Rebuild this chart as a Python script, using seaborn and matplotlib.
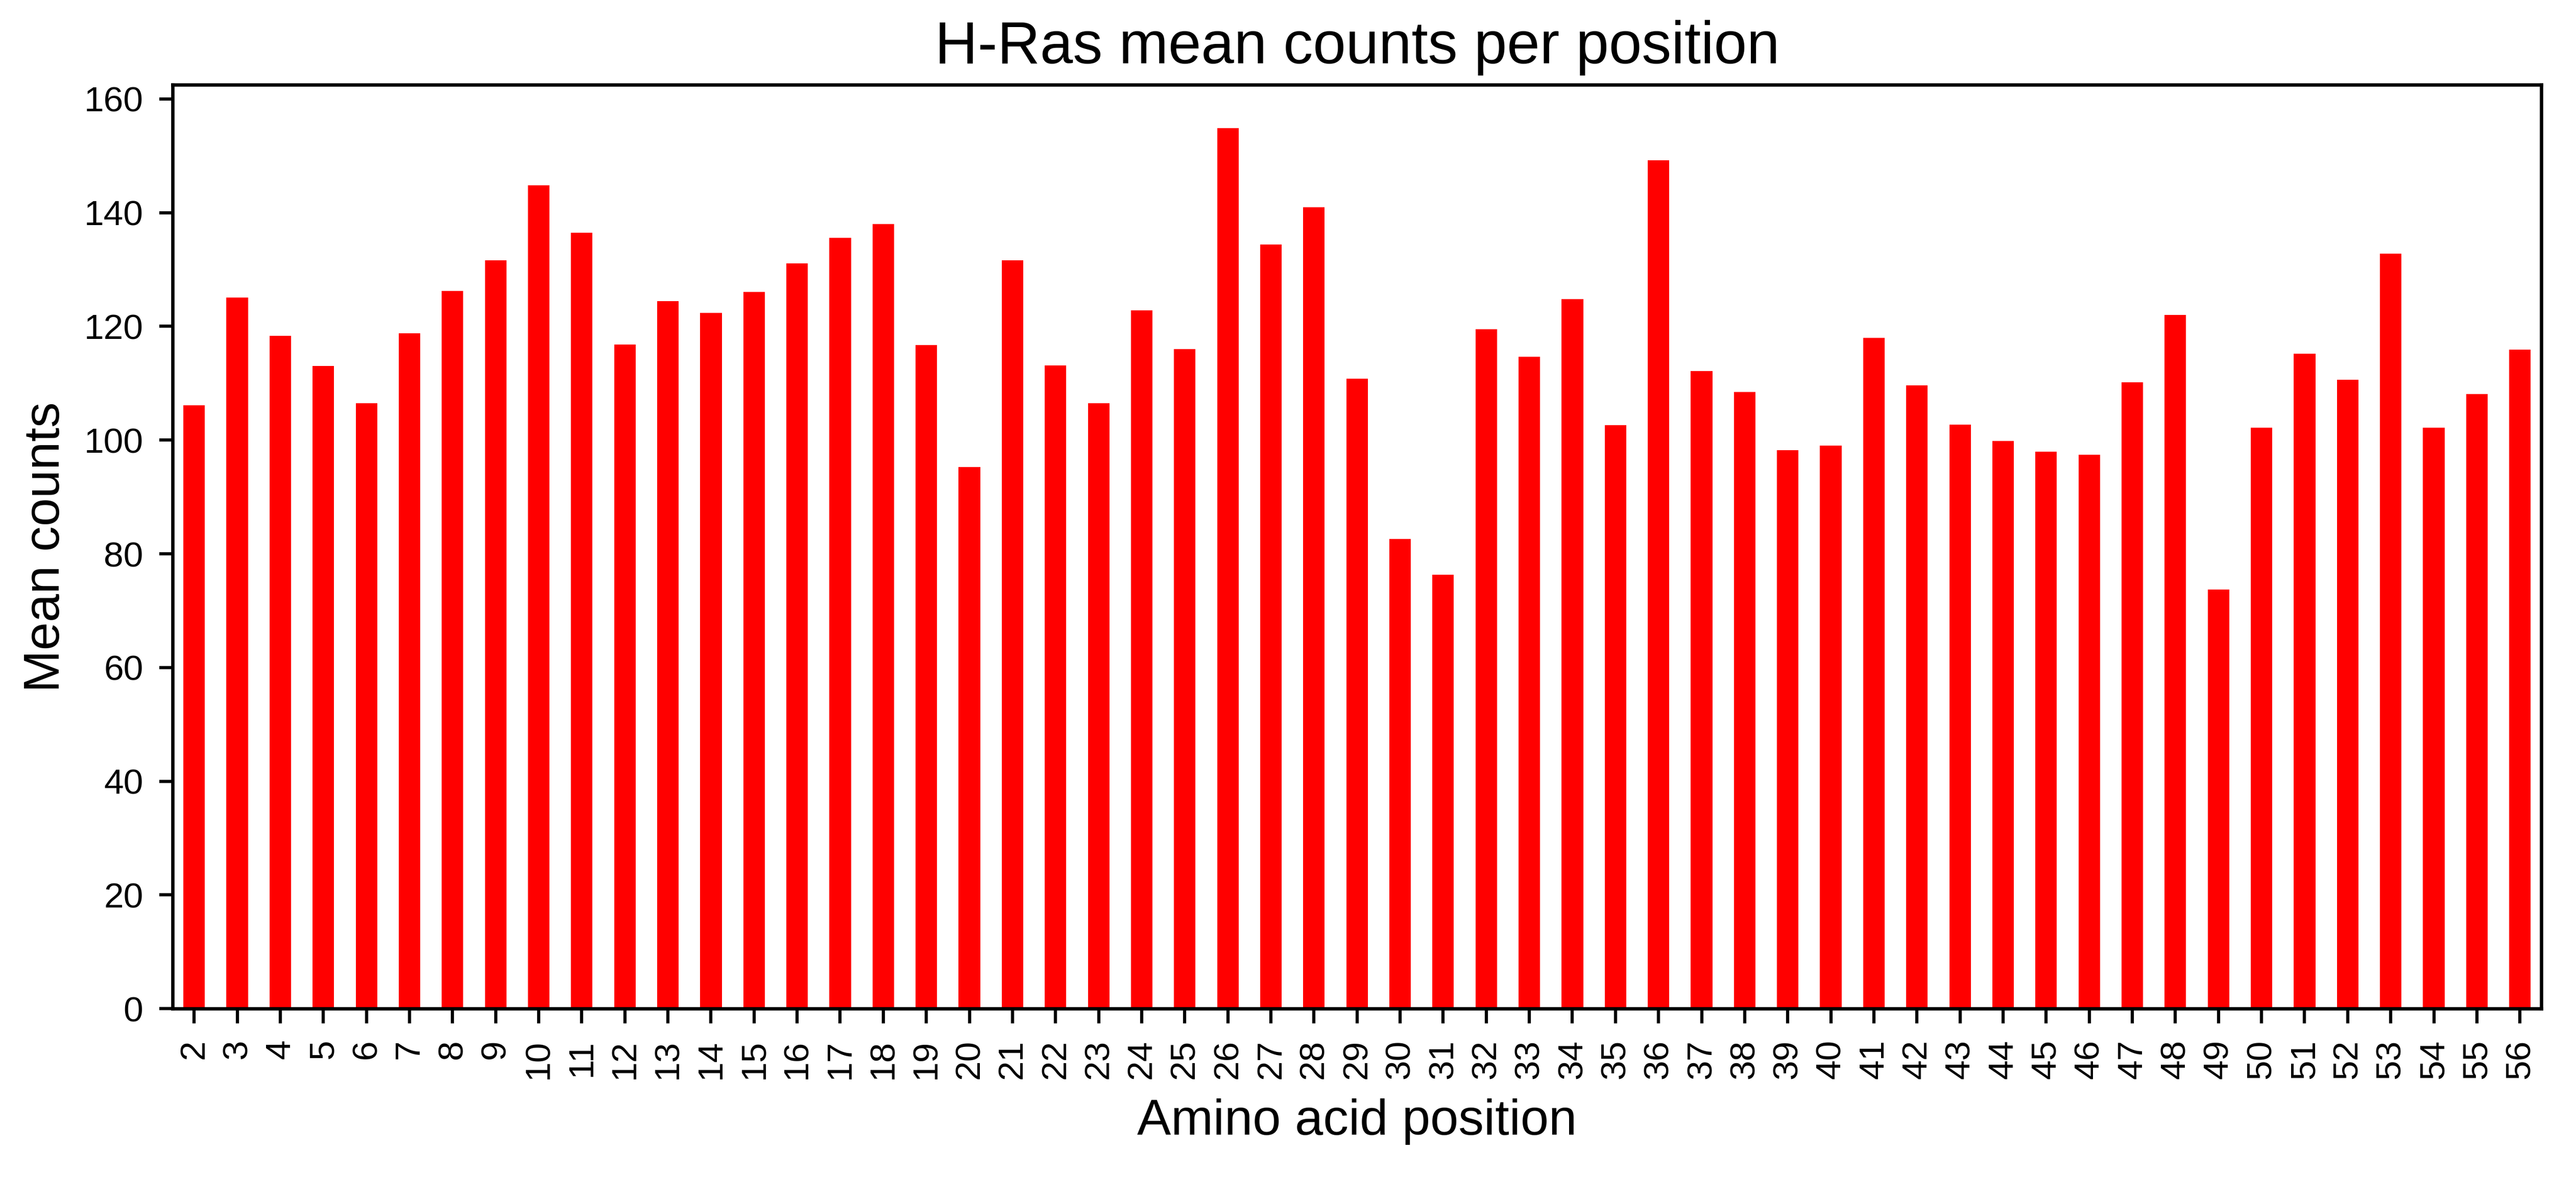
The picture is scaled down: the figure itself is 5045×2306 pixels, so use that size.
import pandas as pd
import matplotlib.pyplot as plt
import seaborn as sns

# Mean counts per amino acid position
positions = list(range(2, 57))
mean_counts = [
    106.1, 125.1, 118.3, 113.0, 106.5, 118.8, 126.2, 131.6, 144.8, 136.5,
    116.8, 124.4, 122.4, 126.1, 131.1, 135.6, 138.0, 116.7, 95.3, 131.6,
    113.1, 106.5, 122.8, 116.0, 154.9, 134.4, 141.0, 110.8, 82.6, 76.3,
    119.5, 114.7, 124.8, 102.6, 149.2, 112.1, 108.5, 98.2, 99.0, 118.0,
    109.6, 102.7, 99.8, 98.0, 97.4, 110.2, 122.0, 73.7, 102.2, 115.2,
    110.6, 132.8, 102.2, 108.1, 115.9,
]

df = pd.DataFrame({"position": [str(p) for p in positions], "mean": mean_counts})

sns.set_style("ticks")
plt.rcParams["font.family"] = ["Liberation Sans", "DejaVu Sans"]
plt.rcParams["text.color"] = "black"
plt.rcParams["axes.labelcolor"] = "black"
plt.rcParams["xtick.color"] = "black"
plt.rcParams["ytick.color"] = "black"

fig, ax = plt.subplots(figsize=(10.09, 4.612), dpi=500)
fig.subplots_adjust(left=0.067, right=0.9866, top=0.928, bottom=0.143)

sns.barplot(data=df, x="position", y="mean", color="red", saturation=1,
            width=0.5, linewidth=0, ax=ax)

ax.set_xlim(-0.5, len(positions) - 0.5)
ax.set_ylim(0, 162.5)
ax.set_yticks(range(0, 161, 20))
ax.tick_params(axis="x", labelrotation=90, labelsize=10, length=4.2, width=0.9, pad=4.5)
ax.tick_params(axis="y", labelsize=10, length=3.8, width=0.9, pad=4.5)
for s in ax.spines.values():
    s.set_linewidth(0.95)
    s.set_color("black")

ax.set_title("H-Ras mean counts per position", fontsize=16.7)
ax.set_xlabel("Amino acid position", fontsize=14.3, labelpad=5.5)
ax.set_ylabel("Mean counts", fontsize=14.3)

plt.savefig("out.png", dpi=500)
